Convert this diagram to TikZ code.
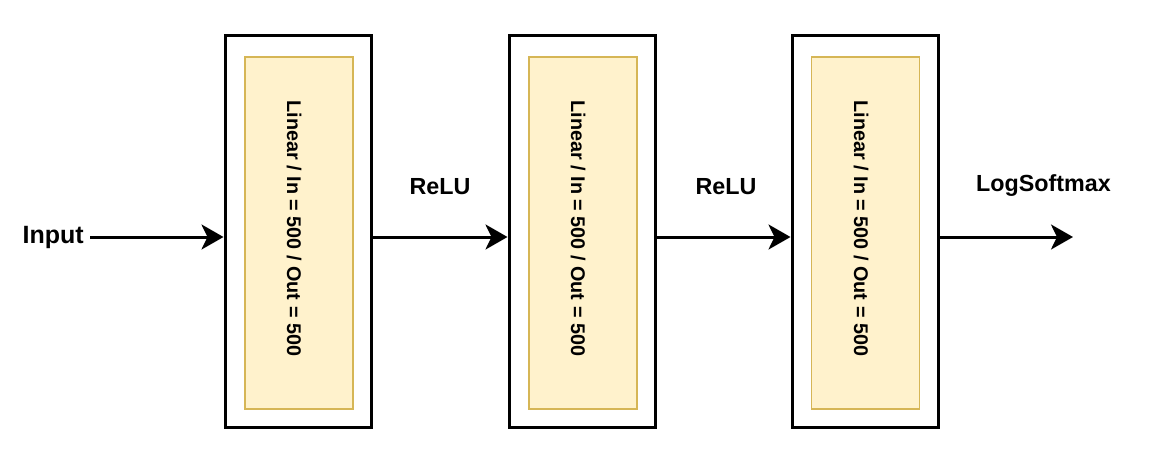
\documentclass[tikz,border=0pt]{standalone}
\usepackage{fontspec}
\setmainfont{Liberation Sans}
\usetikzlibrary{arrows.meta}
\definecolor{innerfill}{HTML}{FFF2CC}
\definecolor{innerdraw}{HTML}{D6B656}
\begin{document}
\begin{tikzpicture}[x=1pt,y=-1pt,
  outerbox/.style={draw=black,line width=3pt,minimum width=146pt,minimum height=391pt,inner sep=0pt},
  innerbox/.style={draw=innerdraw,fill=innerfill,line width=1.5pt,minimum width=108pt,minimum height=352pt,inner sep=0pt},
  layertext/.style={rotate=-90,font=\fontsize{19.8}{23}\selectfont\bfseries,inner sep=0pt},
  lbl/.style={font=\fontsize{23.3}{27}\selectfont\bfseries,inner sep=0pt},
  conn/.style={line width=3pt,-{Stealth[length=22pt,width=25pt,inset=6pt]}}]
\useasboundingbox (0,0) rectangle (1156,460);
\node[outerbox] (o1) at (298,231.5) {};
\node[outerbox] (o2) at (582,231.5) {};
\node[outerbox] (o3) at (865,231.5) {};
\node[innerbox] (i1) at (299,233) {};
\node[innerbox] (i2) at (583,233) {};
\node[innerbox] (i3) at (865.5,233) {};
\node[layertext] (t1) at (294,228.5) {Linear / In = 500 / Out = 500};
\node[layertext] (t2) at (578,228.5) {Linear / In = 500 / Out = 500};
\node[layertext] (t3) at (861,228.5) {Linear / In = 500 / Out = 500};
\node[lbl,font=\fontsize{25}{29}\selectfont\bfseries,anchor=east] (in) at (84,237) {Input};
\coordinate (inend) at (90,237);
\node[lbl] (r1) at (440,187) {ReLU};
\node[lbl] (r2) at (726,187) {ReLU};
\node[lbl] (ls) at (1043.5,186) {LogSoftmax};
\coordinate (outend) at (1073,237);
\draw[conn] (inend) -- (o1.west |- inend);
\draw[conn] (o1.east |- inend) -- (o2.west |- inend);
\draw[conn] (o2.east |- inend) -- (o3.west |- inend);
\draw[conn] (o3.east |- inend) -- (outend);
\end{tikzpicture}
\end{document}
